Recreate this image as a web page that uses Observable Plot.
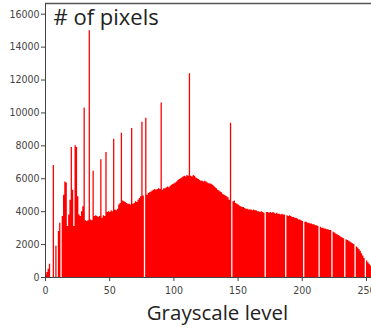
<!DOCTYPE html>
<html>
<head>
<meta charset="utf-8">
<script src="https://cdn.jsdelivr.net/npm/d3@7"></script>
<script src="https://cdn.jsdelivr.net/npm/@observablehq/plot@0.6"></script>
<style>
  html, body { margin: 0; padding: 0; background: #fff; overflow: hidden; }
  #chart { width: 371px; height: 329px; position: relative; }
</style>
</head>
<body>
<div id="chart"></div>
<script>
// Grayscale levels 0..255 and pixel counts
const levels = d3.range(256);
const counts = [
  150, 300, 500, 800, 0, 0, 6800, 0, 1900, 0,
  2800, 3300, 0, 3700, 5000, 5800, 5750, 3100, 3800, 4700,
  7900, 5300, 3100, 8000, 7900, 4900, 3800, 3700, 4000, 4300,
  10300, 3450, 3400, 3450, 15000, 3500, 3450, 6450, 3700, 3750,
  3700, 3650, 3700, 7150, 3600, 3750, 3700, 7600, 3950, 4000,
  3950, 4050, 4000, 8400, 4100, 4050, 4150, 4400, 4500, 8760,
  4650, 4600, 4550, 4500, 4450, 4450, 4400, 9060, 4450, 4500,
  4600, 4550, 4700, 4800, 4900, 9430, 4950, 0, 9670, 5000,
  5100, 5150, 5200, 5250, 5300, 5350, 5300, 5350, 5400, 5350,
  10600, 5300, 5400, 5400, 5450, 5500, 5450, 5550, 5600, 5650,
  5700, 5750, 5800, 5900, 5950, 6000, 6050, 6100, 6150, 6100,
  6200, 6150, 12380, 6150, 6100, 6200, 6150, 6050, 6000, 5950,
  5900, 5850, 5850, 5800, 5850, 5800, 5750, 5700, 5700, 5650,
  5600, 5550, 5450, 5400, 5300, 5250, 5200, 5150, 5050, 5000,
  4950, 4900, 4850, 4700, 9370, 0, 4600, 4650, 4500, 4450,
  4400, 4350, 4300, 4250, 4250, 4200, 4150, 4150, 4100, 4100,
  4100, 4050, 4100, 4050, 4050, 4000, 4000, 3950, 4000, 3950,
  3900, 0, 3950, 3950, 3900, 3950, 3900, 3950, 3900, 3850,
  3900, 3850, 3850, 3800, 3850, 3800, 3800, 0, 3750, 3700,
  3750, 3700, 3650, 3650, 3600, 3600, 3550, 3500, 3500, 3450,
  3400, 0, 3350, 3350, 3300, 3300, 3250, 3250, 3200, 3200,
  3150, 3150, 3100, 0, 3050, 3000, 3000, 2950, 2950, 2900,
  2900, 2850, 2850, 0, 2750, 2700, 2650, 2600, 2550, 2500,
  2450, 2400, 2350, 0, 2300, 2250, 2200, 2150, 2100, 2050,
  2000, 0, 1850, 1800, 1700, 1600, 1450, 1300, 1150, 0,
  1000, 900, 800, 700, 600, 400
];
const xTicks = [0, 50, 100, 150, 200, 250];
const yTicks = [0, 2000, 4000, 6000, 8000, 10000, 12000, 14000, 16000];
const xDomain = [0, 253.9];
const yDomain = [0, 16650];
const titleText = ["# of pixels"];
const xLabelText = ["Grayscale level"];

const data = levels.map((v, i) => ({v, count: counts[i]}));

const chart = Plot.plot({
  width: 371,
  height: 329,
  marginLeft: 45,
  marginRight: 0,
  marginTop: 3,
  marginBottom: 52,
  style: {
    fontFamily: "'DejaVu Sans Condensed', 'DejaVu Sans', sans-serif",
    fontSize: "10.5px",
    color: "#444",
    background: "#fff"
  },
  x: {domain: xDomain, ticks: xTicks, tickFormat: d3.format("d"), label: null},
  y: {domain: yDomain, ticks: yTicks, tickFormat: d3.format("d"), label: null},
  marks: [
    Plot.areaY(data, {x: "v", y: "count", curve: "step-after", fill: "#ff0000", clip: true}),
    Plot.axisX({ticks: xTicks, tickFormat: d3.format("d"), tickSize: 4, tickPadding: 5, label: null}),
    Plot.axisY({ticks: yTicks, tickFormat: d3.format("d"), tickSize: 4, tickPadding: 2, label: null}),
    Plot.ruleY([yDomain[0]], {stroke: "#444", strokeWidth: 1}),
    Plot.ruleY([yDomain[1]], {stroke: "#555", strokeWidth: 1.3}),
    Plot.ruleX([xDomain[0]], {stroke: "#444", strokeWidth: 1}),
    Plot.text(titleText, {frameAnchor: "top-left", dx: 8, dy: 6, textAnchor: "start", lineAnchor: "top",
      fontSize: 22, fontFamily: "'Open Sans', sans-serif", fill: "#222"}),
    Plot.text(xLabelText, {frameAnchor: "bottom", dx: 9, dy: 28, lineAnchor: "top",
      fontSize: 20.5, fontFamily: "'Open Sans', sans-serif", fill: "#222"})
  ]
});
document.getElementById("chart").appendChild(chart);
</script>
</body>
</html>
